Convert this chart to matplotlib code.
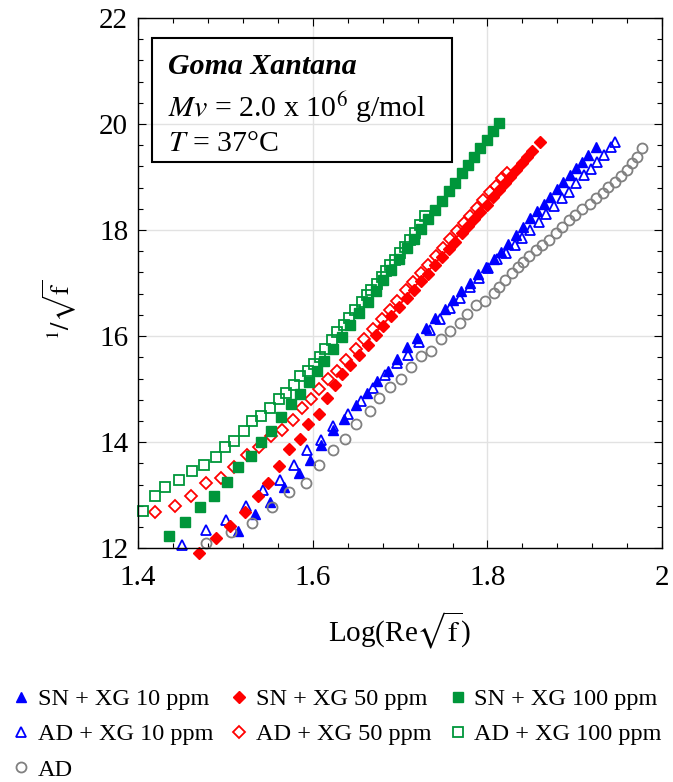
import matplotlib
matplotlib.use("Agg")
import matplotlib.pyplot as plt
from matplotlib.patches import Rectangle
from matplotlib.ticker import MultipleLocator, AutoMinorLocator

plt.rcParams['font.family'] = ['Liberation Serif', 'DejaVu Serif']
plt.rcParams['mathtext.fontset'] = 'stix'

# SN + XG 10 ppm (filled triangles)
sn10_x = [1.515, 1.534, 1.551, 1.567, 1.584, 1.597, 1.610, 1.623, 1.636, 1.649, 1.662, 1.674,
          1.686, 1.697, 1.708, 1.719, 1.730, 1.740, 1.751, 1.760, 1.770, 1.780, 1.789, 1.798,
          1.807, 1.816, 1.824, 1.833, 1.841, 1.849, 1.857, 1.865, 1.872, 1.880, 1.887, 1.894,
          1.901, 1.908, 1.915, 1.924]
sn10_y = [12.33, 12.64, 12.87, 13.16, 13.42, 13.67, 13.94, 14.23, 14.43, 14.70, 14.93, 15.15,
          15.35, 15.57, 15.80, 15.97, 16.15, 16.35, 16.52, 16.69, 16.85, 17.00, 17.17, 17.30,
          17.45, 17.59, 17.74, 17.91, 18.06, 18.22, 18.36, 18.50, 18.62, 18.77, 18.90, 19.04,
          19.17, 19.29, 19.41, 19.57]

# AD + XG 10 ppm (open triangles)
ad10_x = [1.450, 1.478, 1.501, 1.524, 1.543, 1.562, 1.579, 1.594, 1.610, 1.623, 1.640, 1.655,
          1.669, 1.683, 1.696, 1.709, 1.722, 1.734, 1.746, 1.757, 1.769, 1.780, 1.790, 1.801,
          1.811, 1.821, 1.831, 1.840, 1.849, 1.859, 1.867, 1.876, 1.885, 1.893, 1.901, 1.910,
          1.918, 1.925, 1.933, 1.941, 1.946]
ad10_y = [12.06, 12.34, 12.53, 12.80, 13.09, 13.29, 13.57, 13.85, 14.04, 14.30, 14.53, 14.78,
          15.02, 15.27, 15.50, 15.65, 15.88, 16.11, 16.32, 16.53, 16.71, 16.92, 17.10, 17.28,
          17.45, 17.56, 17.71, 17.85, 18.00, 18.16, 18.30, 18.46, 18.60, 18.72, 18.89, 19.03,
          19.15, 19.29, 19.42, 19.56, 19.67]

# SN + XG 50 ppm (filled diamonds)
sn50_x = [1.470, 1.489, 1.505, 1.522, 1.537, 1.549, 1.561, 1.573, 1.585, 1.595, 1.607, 1.616,
          1.625, 1.634, 1.643, 1.653, 1.663, 1.672, 1.681, 1.690, 1.699, 1.708, 1.716, 1.724,
          1.732, 1.740, 1.748, 1.756, 1.763, 1.771, 1.778, 1.785, 1.792, 1.799, 1.806, 1.813,
          1.820, 1.826, 1.833, 1.839, 1.845, 1.851, 1.860]
sn50_y = [11.91, 12.19, 12.41, 12.69, 12.98, 13.23, 13.55, 13.87, 14.06, 14.35, 14.53, 14.84,
          15.08, 15.28, 15.45, 15.65, 15.84, 16.02, 16.19, 16.37, 16.54, 16.72, 16.87, 17.03,
          17.18, 17.34, 17.49, 17.65, 17.78, 17.94, 18.07, 18.21, 18.35, 18.48, 18.62, 18.75,
          18.89, 19.00, 19.14, 19.26, 19.37, 19.49, 19.67]

# AD + XG 50 ppm (open diamonds)
ad50_x = [1.420, 1.442, 1.461, 1.478, 1.495, 1.510, 1.525, 1.539, 1.552, 1.565, 1.577, 1.588,
          1.598, 1.607, 1.618, 1.628, 1.638, 1.649, 1.659, 1.669, 1.679, 1.688, 1.697, 1.707,
          1.715, 1.724, 1.732, 1.741, 1.749, 1.757, 1.765, 1.773, 1.780, 1.788, 1.795, 1.803,
          1.810, 1.817, 1.822]
ad50_y = [12.69, 12.79, 12.99, 13.23, 13.32, 13.54, 13.75, 13.91, 14.11, 14.23, 14.42, 14.65,
          14.81, 15.01, 15.20, 15.35, 15.54, 15.75, 15.95, 16.14, 16.33, 16.50, 16.67, 16.87,
          17.02, 17.19, 17.35, 17.52, 17.67, 17.83, 17.98, 18.13, 18.27, 18.42, 18.56, 18.71,
          18.84, 18.98, 19.07]

# SN + XG 100 ppm (filled squares)
sn100_x = [1.435, 1.454, 1.471, 1.487, 1.502, 1.515, 1.529, 1.541, 1.552, 1.564, 1.575, 1.585,
           1.596, 1.605, 1.613, 1.623, 1.633, 1.643, 1.653, 1.663, 1.672, 1.681, 1.690, 1.699,
           1.708, 1.716, 1.724, 1.732, 1.740, 1.748, 1.756, 1.763, 1.771, 1.778, 1.785, 1.792,
           1.799, 1.806, 1.813]
sn100_y = [12.23, 12.50, 12.77, 12.98, 13.25, 13.53, 13.74, 14.01, 14.21, 14.48, 14.72, 14.91,
           15.13, 15.35, 15.53, 15.75, 15.98, 16.20, 16.43, 16.65, 16.85, 17.05, 17.25, 17.45,
           17.66, 17.84, 18.02, 18.20, 18.37, 18.55, 18.73, 18.89, 19.07, 19.23, 19.38, 19.54,
           19.70, 19.86, 20.01]

# AD + XG 100 ppm (open squares)
ad100_x = [1.406, 1.419, 1.431, 1.447, 1.462, 1.476, 1.489, 1.500, 1.510, 1.521, 1.531, 1.541,
           1.551, 1.561, 1.569, 1.579, 1.586, 1.595, 1.601, 1.608, 1.614, 1.622, 1.628, 1.636,
           1.642, 1.648, 1.656, 1.662, 1.667, 1.673, 1.679, 1.684, 1.689, 1.694, 1.700, 1.706,
           1.711, 1.717, 1.723, 1.729]
ad100_y = [12.70, 12.98, 13.15, 13.29, 13.45, 13.56, 13.72, 13.91, 14.03, 14.21, 14.40, 14.50,
           14.65, 14.81, 14.92, 15.07, 15.25, 15.35, 15.48, 15.61, 15.75, 15.92, 16.08, 16.21,
           16.35, 16.49, 16.65, 16.77, 16.87, 16.99, 17.12, 17.23, 17.34, 17.43, 17.56, 17.68,
           17.81, 17.94, 18.10, 18.26]

# AD (open circles)
ad_x = [1.478, 1.507, 1.531, 1.553, 1.573, 1.592, 1.607, 1.623, 1.637, 1.650, 1.665, 1.676,
        1.689, 1.701, 1.712, 1.724, 1.735, 1.747, 1.757, 1.768, 1.777, 1.787, 1.797, 1.807,
        1.813, 1.820, 1.828, 1.835, 1.841, 1.848, 1.855, 1.862, 1.870, 1.878, 1.885, 1.893,
        1.900, 1.908, 1.917, 1.924, 1.932, 1.938, 1.946, 1.953, 1.960, 1.965, 1.971, 1.977]
ad_y = [12.09, 12.30, 12.48, 12.78, 13.06, 13.23, 13.56, 13.86, 14.06, 14.35, 14.59, 14.84,
        15.04, 15.20, 15.41, 15.62, 15.72, 15.94, 16.10, 16.25, 16.41, 16.58, 16.67, 16.82,
        16.93, 17.06, 17.19, 17.31, 17.40, 17.51, 17.62, 17.72, 17.82, 17.94, 18.05, 18.19,
        18.28, 18.39, 18.50, 18.60, 18.70, 18.82, 18.91, 19.02, 19.13, 19.26, 19.37, 19.54]

blue = '#0000FF'
red = '#FF0000'
green = '#00963A'
gray = '#808080'

fig = plt.figure(figsize=(6.73, 7.82), dpi=100)
ax = fig.add_axes([0.205, 0.299, 0.779, 0.678])

ms = 6.6
# legend order fills columns: col1 SN10, AD10, AD; col2 SN50, AD50; col3 SN100, AD100
ax.plot(sn10_x, sn10_y, ls='none', marker='^', ms=ms, color=blue, mec=blue, clip_on=False, label='SN + XG 10 ppm')
ax.plot(ad10_x, ad10_y, ls='none', marker='^', ms=ms, mfc='none', mec=blue, mew=1.3, clip_on=False, label='AD + XG 10 ppm')
ax.plot(ad_x, ad_y, ls='none', marker='o', ms=ms + 0.6, mfc='none', mec=gray, mew=1.3, clip_on=False, label='AD')
ax.plot(sn50_x, sn50_y, ls='none', marker='D', ms=ms - 0.8, color=red, mec=red, clip_on=False, label='SN + XG 50 ppm')
ax.plot(ad50_x, ad50_y, ls='none', marker='D', ms=ms - 0.8, mfc='none', mec=red, mew=1.3, clip_on=False, label='AD + XG 50 ppm')
ax.plot(sn100_x, sn100_y, ls='none', marker='s', ms=ms, color=green, mec=green, clip_on=False, label='SN + XG 100 ppm')
ax.plot(ad100_x, ad100_y, ls='none', marker='s', ms=ms, mfc='none', mec=green, mew=1.3, clip_on=False, label='AD + XG 100 ppm')

ax.set_xlim(1.4, 2.0)
ax.set_ylim(12, 22)
ax.xaxis.set_major_locator(MultipleLocator(0.2))
ax.yaxis.set_major_locator(MultipleLocator(2))
ax.xaxis.set_minor_locator(AutoMinorLocator(5))
ax.yaxis.set_minor_locator(AutoMinorLocator(5))
ax.set_xticks([1.4, 1.6, 1.8, 2.0])
ax.set_xticklabels(['1.4', '1.6', '1.8', '2'])
ax.tick_params(which='both', direction='in', top=True, right=True, labelsize=21, width=0.8)
ax.tick_params(which='major', length=6)
ax.tick_params(which='minor', length=3.5)
ax.tick_params(axis='x', pad=12)
ax.tick_params(axis='y', pad=7)
ax.grid(True, which='major', color='#e2e2e2', lw=1)
ax.set_axisbelow(True)
for s in ax.spines.values():
    s.set_linewidth(1.0)

ax.set_xlabel(r'Log(Re$\sqrt{\mathrm{f}}$)', fontsize=21)
ax.xaxis.set_label_coords(0.5, -0.115)
ax.set_ylabel(r'$^{1}/\sqrt{\mathrm{f}}$', fontsize=19)
ax.yaxis.set_label_coords(-0.112, 0.45)

# info box
ax.add_patch(Rectangle((0.027, 0.728), 0.572, 0.234, transform=ax.transAxes,
                       fill=False, ec='black', lw=1.5, zorder=5))
ax.text(0.058, 0.908, 'Goma Xantana', transform=ax.transAxes, fontsize=21.5,
        fontweight='bold', style='italic', va='center', zorder=6)
ax.text(0.058, 0.83, r'$Mv$ = 2.0 x 10$^{6}$ g/mol', transform=ax.transAxes, fontsize=21.5,
        va='center', zorder=6)
ax.text(0.058, 0.763, r'$T$ = 37°C', transform=ax.transAxes, fontsize=21.5,
        va='center', zorder=6)

fig.legend(loc='lower left', bbox_to_anchor=(0.015, 0.0), ncol=3, frameon=False,
           fontsize=17.5, handlelength=0.8, handletextpad=0.28, columnspacing=0.68,
           labelspacing=0.55, borderaxespad=0.0, borderpad=0.05)

fig.savefig('out.png', dpi=100)
